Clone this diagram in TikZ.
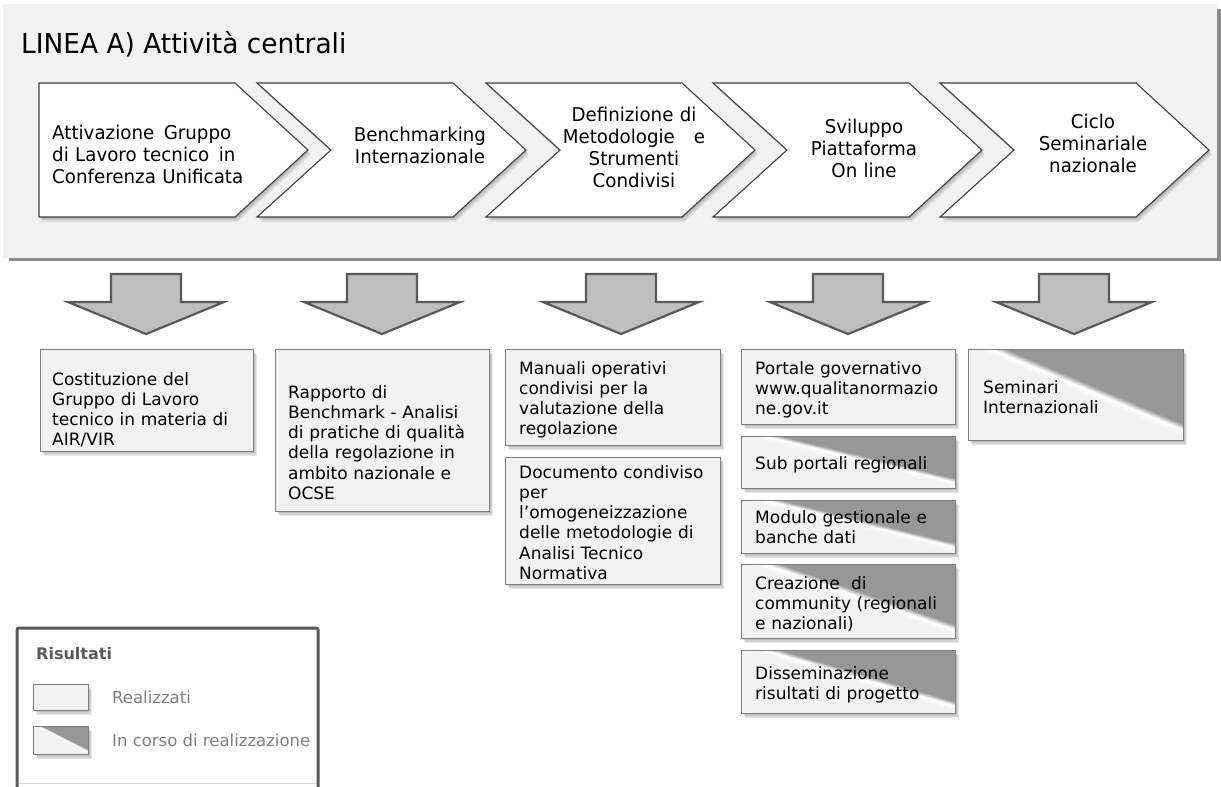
\documentclass[tikz,border=0pt]{standalone}
\usepackage{fontspec}
\setmainfont{DejaVu Sans}
\newfontfamily\chevfont[FakeStretch=0.96]{DejaVu Sans}
\usetikzlibrary{shadows}

\definecolor{panelbg}{HTML}{F2F2F2}
\definecolor{panelshade}{HTML}{8C8C8C}
\definecolor{chevline}{HTML}{404040}
\definecolor{arrowfill}{HTML}{BFBFBF}
\definecolor{arrowline}{HTML}{595959}
\definecolor{boxfill}{HTML}{F2F2F2}
\definecolor{boxline}{HTML}{7F7F7F}
\definecolor{boxdark}{HTML}{979797}
\definecolor{legendtext}{HTML}{7F7F7F}
\definecolor{legendhead}{HTML}{595959}
\definecolor{legendframe}{HTML}{595959}
\definecolor{legendrule}{HTML}{D9D9D9}

% light lower-left half, dark upper-right half, bright seam along the diagonal
\pgfdeclarehorizontalshading{inprogress}{100bp}{%
  color(0bp)=(boxfill); color(51.5bp)=(boxfill); color(53.8bp)=(white);
  color(56bp)=(boxdark); color(100bp)=(boxdark)}

\tikzset{
  softshadow/.style={
    general shadow={fill=black, opacity=0.09, shadow xshift=1pt, shadow yshift=-1.5pt},
    general shadow={fill=black, opacity=0.09, shadow xshift=2pt, shadow yshift=-3pt},
    general shadow={fill=black, opacity=0.09, shadow xshift=3pt, shadow yshift=-4.5pt}},
  chevron/.style={fill=white, draw=chevline, line width=1.1pt, line join=miter, softshadow},
  blockarrow/.style={fill=arrowfill, draw=arrowline, line width=2.2pt, line join=miter},
  done/.style={rectangle, anchor=north west, fill=boxfill, draw=boxline,
    line width=1.4pt, inner sep=0pt, softshadow},
  % the argument is the shading angle that puts the seam on the box diagonal
  ongoing/.style={rectangle, anchor=north west, draw=boxline, line width=1.4pt,
    inner sep=0pt, softshadow, shading=inprogress, shading angle=#1},
  chevtext/.style={font=\chevfont\fontsize{19}{22}\selectfont, text width=240pt,
    align=center, inner sep=0pt, anchor=base},
  boxtext/.style={font=\fontsize{17}{20.3}\selectfont, text width=210pt,
    align=left, inner sep=0pt, anchor=base west},
  legendlabel/.style={font=\fontsize{16.5}{19}\selectfont, text=legendtext,
    inner sep=0pt, anchor=base west},
}

\begin{document}
\begin{tikzpicture}[x=1pt, y=-1pt]
\useasboundingbox (0,0) rectangle (1221,787);
\fill[white] (0,0) rectangle (1221,787);

% header panel with its shadow
\fill[panelshade] (9,9) rectangle (1221,261);
\fill[panelbg] (3,4) rectangle (1217,258);

\node[anchor=base west, inner sep=0pt, font=\chevfont\fontsize{27.5}{30}\selectfont]
  (title) at (21,53) {LINEA A) Attività centrali};

% process chevrons
\path[chevron] (39,83) -- (235,83) -- (308,150) -- (235,217) -- (39,217) -- cycle;
\foreach \L in {257,486,713,940}
  \path[chevron] (\L,83) -- ({\L+196},83) -- ({\L+269},150) -- ({\L+196},217)
    -- (\L,217) -- ({\L+74},150) -- cycle;

\node[chevtext, align=left, anchor=base west] (c1) at (52,139.5)
  {Attivazione\, Gruppo\\di Lavoro tecnico\, in\\Conferenza Unificata};
\node[chevtext] (c2) at (420,141) {Benchmarking\\Internazionale};
\node[chevtext] (c3) at (634,121) {Definizione di\\Metodologie\ \ \ e\\Strumenti\\Condivisi};
\node[chevtext] (c4) at (864,133) {Sviluppo\\Piattaforma\\On line};
\node[chevtext] (c5) at (1093,128) {Ciclo\\Seminariale\\nazionale};

% block arrows pointing to the results
\foreach \cx in {146,382,621,848,1074}
  \draw[blockarrow] ({\cx-35},274) -- ({\cx+35},274) -- ({\cx+35},302)
    -- ({\cx+78},302) -- (\cx,334) -- ({\cx-78},302) -- ({\cx-35},302) -- cycle;

% result boxes
\node[done, minimum width=213pt, minimum height=102pt] (b1) at (40,349) {};
\node[done, minimum width=214pt, minimum height=162pt] (b2) at (275,349) {};
\node[done, minimum width=215pt, minimum height=96pt] (b3) at (505,349) {};
\node[done, minimum width=215pt, minimum height=127pt] (b4) at (505,457) {};
\node[done, minimum width=214pt, minimum height=75pt] (b5) at (741,349) {};
\node[ongoing=76.3, minimum width=214pt, minimum height=52pt] (b6) at (741,436) {};
\node[ongoing=76.1, minimum width=214pt, minimum height=53pt] (b7) at (741,500) {};
\node[ongoing=70.9, minimum width=214pt, minimum height=74pt] (b8) at (741,564) {};
\node[ongoing=73.6, minimum width=214pt, minimum height=63pt] (b9) at (741,650) {};
\node[ongoing=67.1, minimum width=215pt, minimum height=91pt] (b10) at (968,349) {};

\node[boxtext] (t1) at (52,385)
  {Costituzione del\\Gruppo di Lavoro\\tecnico in materia di\\AIR/VIR};
\node[boxtext] (t2) at (288,398)
  {Rapporto di\\Benchmark - Analisi\\di pratiche di qualità\\della regolazione in\\ambito nazionale e\\OCSE};
\node[boxtext] (t3) at (519,374)
  {Manuali operativi\\condivisi per la\\valutazione della\\regolazione};
\node[boxtext] (t4) at (519,478)
  {Documento condiviso\\per\\l’omogeneizzazione\\delle metodologie di\\Analisi Tecnico\\Normativa};
\node[boxtext] (t5) at (755,374)
  {Portale governativo\\www.qualitanormazio\\ne.gov.it};
\node[boxtext] (t6) at (755,469) {Sub portali regionali};
\node[boxtext] (t7) at (755,523) {Modulo gestionale e\\banche dati};
\node[boxtext] (t8) at (755,589) {Creazione\ \ di\\community (regionali\\e nazionali)};
\node[boxtext] (t9) at (755,679) {Disseminazione\\risultati di progetto};
\node[boxtext] (t10) at (983,393) {Seminari\\Internazionali};

% legend
\draw[legendrule, line width=1pt] (18.5,783) -- (316.5,783);
\draw[legendframe, line width=3pt, rounded corners=2pt]
  (17,800) -- (17,628) -- (318,628) -- (318,800);
\node[anchor=base west, inner sep=0pt, text=legendhead,
  font=\bfseries\fontsize{16}{19}\selectfont] (lhead) at (36,659) {Risultati};
\node[done, minimum width=55pt, minimum height=26pt] (k1) at (33,684) {};
\node[legendlabel] (l1) at (112,703) {Realizzati};
\node[ongoing=63, minimum width=55pt, minimum height=28pt] (k2) at (33,726) {};
\node[legendlabel] (l2) at (112,746) {In corso di realizzazione};
\end{tikzpicture}
\end{document}
